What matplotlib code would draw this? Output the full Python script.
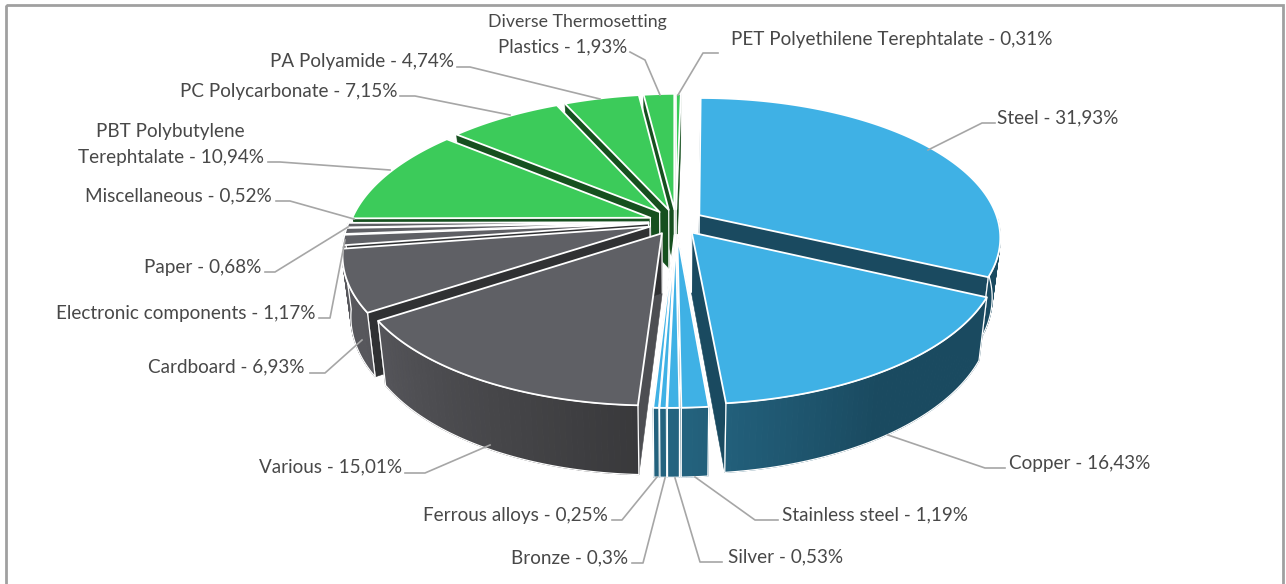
import numpy as np
import matplotlib
matplotlib.use("Agg")
import matplotlib.pyplot as plt
from matplotlib.patches import Polygon, Rectangle
from matplotlib.colors import to_rgb

# ---------- data ----------
materials = ["Steel", "Copper", "Stainless steel", "Silver", "Bronze", "Ferrous alloys",
             "Various", "Cardboard", "Electronic components", "Paper", "Miscellaneous",
             "PBT Polybutylene\nTerephtalate", "PC Polycarbonate", "PA Polyamide",
             "Diverse Thermosetting\nPlastics", "PET Polyethilene Terephtalate"]
percent_labels = ["31,93%", "16,43%", "1,19%", "0,53%", "0,3%", "0,25%", "15,01%", "6,93%",
                  "1,17%", "0,68%", "0,52%", "10,94%", "7,15%", "4,74%", "1,93%", "0,31%"]
shares = [31.93, 16.43, 1.19, 0.53, 0.30, 0.25, 15.01, 6.93,
          1.17, 0.68, 0.52, 10.94, 7.15, 4.74, 1.93, 0.31]
groups = ["metal"] * 6 + ["other"] * 5 + ["plastic"] * 5

# ---------- styling / layout ----------
TOP = {"metal": "#3FB1E5", "other": "#5F6065", "plastic": "#3CCB5A"}
FACE = {"metal": "#1A4A60", "other": "#303133", "plastic": "#16501F"}
FACE_FRONT = {"metal": "#1A4A60", "other": "#4D4E52", "plastic": "#16501F"}
WALL_NEAR = {"metal": "#246480", "other": "#38383A", "plastic": "#1C6028"}
WALL_FAR = {"metal": "#1A4A60", "other": "#57575C", "plastic": "#16501F"}
WALL_SPAN = {"metal": 32, "other": 60, "plastic": 60}

CX, CY = 676, 222
RX, RY, PERSP = 299.5, 139, 0.168
SHEAR = 5.5
EXPLODE = 0.092
DROP, SCALE_X, SCALE_Y = 59, 0.975, 1.056

LEADER = "#A6A6A6"
TXT = "#484848"
FONT = "Lato"
FS = 13.6

# one (x, y centre, ha, size) per text line of each label
label_pos = [[(997, 118, "left", FS)], [(1009, 463, "left", FS)], [(782, 515, "left", FS)],
             [(728, 557, "left", FS)], [(628, 558, "right", FS)], [(608, 516, "right", FS)],
             [(402, 467, "right", FS)], [(305, 367, "right", FS)], [(315, 313, "right", FS)],
             [(261, 267, "right", FS)], [(272, 196, "right", FS)],
             [(170, 132, "center", FS), (171, 157, "center", FS)],
             [(397, 91, "right", FS)], [(454, 62, "right", FS)],
             [(577, 22, "center", 12.8), (563, 47, "center", 13.4)], [(731, 40, "left", FS)]]
leaders = [[(928, 150), (982, 123), (995, 123)],
           [(888, 435), (985, 468), (1005, 468)],
           [(695, 477), (755, 520), (778, 520)],
           [(675, 478), (700, 562), (722, 562)],
           [(665, 478), (643, 563), (632, 563)],
           [(657, 477), (622, 520), (612, 520)],
           [(490, 445), (425, 473), (405, 473)],
           [(362, 340), (325, 373), (310, 373)],
           [(345, 240), (330, 318), (319, 318)],
           [(348, 227), (275, 272), (265, 272)],
           [(354, 219), (290, 201), (276, 201)],
           [(390, 170), (280, 162), (268, 162)],
           [(510, 115), (415, 96), (400, 96)],
           [(600, 99), (470, 67), (457, 67)],
           [(660, 95), (645, 60), (630, 52)],
           [(678, 95), (703, 53), (718, 53)]]


def top_xy(u, v):
    s = 1 / (1 - PERSP * v)
    return CX + (RX * u - SHEAR * v) * s, CY + RY * v * s


def bottom_xy(x, y):
    return CX + (x - CX) * SCALE_X, CY + DROP + (y - CY) * SCALE_Y


def mix(a, b, t):
    a, b = np.array(to_rgb(a)), np.array(to_rgb(b))
    return tuple(a + (b - a) * t)


fig = plt.figure(figsize=(12.86, 5.84), dpi=100)
ax = fig.add_axes([0, 0, 1, 1])
ax.set_xlim(0, 1286)
ax.set_ylim(584, 0)
ax.axis("off")
ax.add_patch(Rectangle((6, 5), 1277, 600, fill=False, ec="#A0A0A0", lw=2, zorder=0))

total = sum(shares)
edges = np.cumsum([0] + shares) / total * 2 * np.pi
mids = (edges[:-1] + edges[1:]) / 2
order = np.argsort(-np.cos(mids))  # back (top of picture) to front
z = 2
for i in order:
    a0, a1 = edges[i], edges[i + 1]
    mid = mids[i]
    g = groups[i]
    du, dv = EXPLODE * np.sin(mid), -EXPLODE * np.cos(mid)
    th = np.linspace(a0, a1, max(3, int(np.degrees(a1 - a0)) + 2))
    rim = np.array([top_xy(np.sin(t) + du, -np.cos(t) + dv) for t in th])
    apex = np.array(top_xy(du, dv))
    rim_b = np.array([bottom_xy(*p) for p in rim])
    apex_b = np.array(bottom_xy(*apex))

    # radial cut faces
    for p, q, ang in ((rim[0], rim_b[0], th[0]), (rim[-1], rim_b[-1], th[-1])):
        fc = FACE_FRONT[g] if np.cos(ang) < -0.9 else FACE[g]
        ax.add_patch(Polygon([apex, p, q, apex_b], closed=True, fc=fc, ec=fc,
                             lw=0.4, zorder=z))
        if np.cos(ang) < 0:
            ax.plot([p[0], q[0]], [p[1], q[1]], color="white", lw=0.9, zorder=z)
    ax.plot([apex[0], apex_b[0]], [apex[1], apex_b[1]], color="white", lw=0.9, zorder=z)
    z += 1
    # outer wall (front part only), drawn as strips for the gradient
    idx = np.where(np.cos(th) < 0)[0]
    for k in idx[:-1]:
        t = min(1, abs(np.degrees((th[k] + th[k + 1]) / 2) - 180) / WALL_SPAN[g])
        c = mix(WALL_NEAR[g], WALL_FAR[g], t)
        ax.add_patch(Polygon([rim[k], rim[k + 1], rim_b[k + 1], rim_b[k]], closed=True,
                             fc=c, ec=c, lw=0.8, zorder=z))
    z += 1
    if len(idx) > 1:
        ax.add_patch(Polygon(np.vstack([rim[idx], rim_b[idx][::-1]]), closed=True, fill=False,
                             ec="white", lw=0.9, zorder=z))
    z += 1
    # top surface
    ax.add_patch(Polygon(np.vstack([[apex], rim]), closed=True, fc=TOP[g], ec="white",
                         lw=1.3, zorder=z, joinstyle="round"))
    z += 1

for name, pct, places, line in zip(materials, percent_labels, label_pos, leaders):
    xs, ys = zip(*line)
    ax.plot(xs, ys, color=LEADER, lw=1.2, zorder=z, solid_joinstyle="round")
    for part, (x, y, ha, size) in zip(f"{name} - {pct}".split("\n"), places):
        ax.text(x, y, part, ha=ha, va="center", color=TXT, family=FONT, fontsize=size, zorder=z + 1)

fig.savefig("out.png", dpi=100, facecolor="white")
